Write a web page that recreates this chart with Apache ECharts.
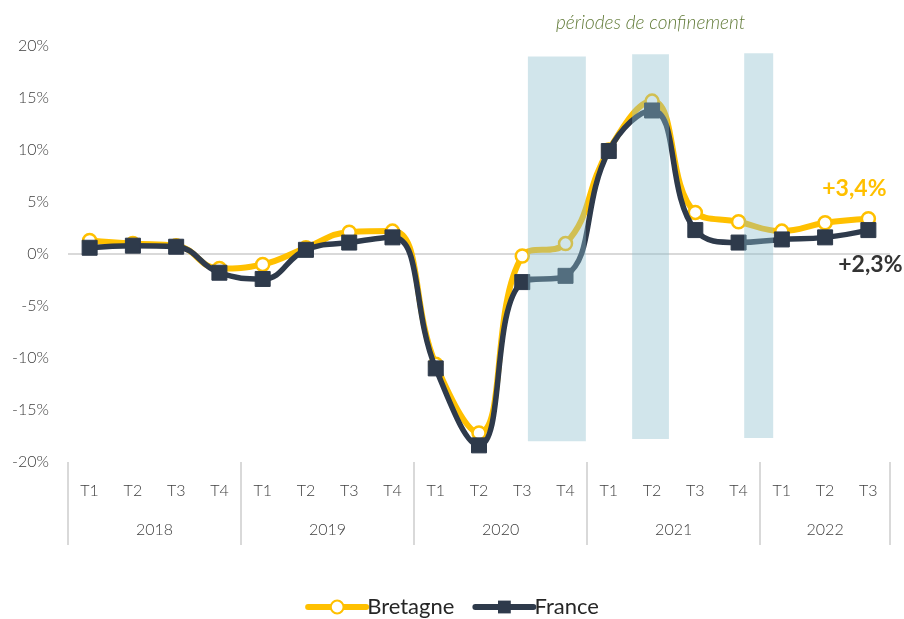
<!DOCTYPE html>
<html>
<head>
<meta charset="utf-8">
<script src="https://cdn.jsdelivr.net/npm/echarts@6/dist/echarts.min.js"></script>
<style>
  html, body { margin: 0; padding: 0; background: #fff; }
  #chart { width: 904px; height: 619px; }
</style>
</head>
<body>
<div id="chart"></div>
<script>
const quarters = ['T1', 'T2', 'T3', 'T4', 'T1', 'T2', 'T3', 'T4', 'T1', 'T2', 'T3', 'T4', 'T1', 'T2', 'T3', 'T4', 'T1', 'T2', 'T3']
const years = ['2018', '2019', '2020', '2021', '2022']
// year label centre and separator positions, in category index units
const yearCenters = [1.5, 5.5, 9.5, 13.5, 17]
const yearBounds = [-0.5, 3.5, 7.5, 11.5, 15.5, 18.5]
const bretagne = [1.3, 1.0, 0.8, -1.4, -1.0, 0.6, 2.1, 2.2, -10.6, -17.2, -0.2, 1.0, 10.0, 14.7, 4.0, 3.1, 2.2, 3.0, 3.4]
const france = [0.6, 0.8, 0.7, -1.8, -2.4, 0.4, 1.1, 1.6, -11.0, -18.4, -2.7, -2.1, 9.9, 13.8, 2.3, 1.1, 1.4, 1.6, 2.3]
// confinement periods: [from, to] in category index units, [top, bottom] in %
const confinements = [[10.13, 11.47, 19.0, -18.0], [12.54, 13.39, 19.2, -17.8], [15.13, 15.8, 19.3, -17.7]]

const YELLOW = '#FFC000'
const DARK = '#2E3A4B'
const FONT = 'Lato'

const chart = echarts.init(document.getElementById('chart'))

function withLastLabel(values, label) {
  return values.map((v, i) => i === values.length - 1 ? { value: v, label: label } : v)
}

chart.setOption({
  animation: false,
  textStyle: { fontFamily: FONT },
  grid: { left: 68, right: 14, top: 46, bottom: 157 },
  legend: {
    top: 596,
    left: 'center',
    padding: 0,
    itemWidth: 58,
    itemHeight: 16,
    itemGap: 18,
    lineStyle: { width: 6, cap: 'round' },
    textStyle: { fontSize: 22, lineHeight: 22, color: '#262626', fontFamily: FONT, padding: [0, 0, 0, -4] },
    data: ['Bretagne', 'France']
  },
  xAxis: [{
    type: 'category',
    data: quarters,
    boundaryGap: true,
    axisLine: { show: false },
    axisTick: { show: false },
    axisLabel: { color: '#404040', fontSize: 16, margin: 21, fontFamily: FONT, fontWeight: 300 }
  }, {
    type: 'value',
    position: 'bottom',
    min: -0.5,
    max: 18.5,
    axisLine: { show: false },
    splitLine: { show: false },
    axisTick: {
      show: true,
      length: 83,
      customValues: yearBounds,
      lineStyle: { color: '#d9d9d9', width: 2 }
    },
    axisLabel: {
      color: '#404040',
      fontSize: 16,
      margin: 60,
      fontFamily: FONT,
      fontWeight: 300,
      customValues: yearCenters,
      formatter: function(v) {
        const k = yearCenters.indexOf(v)
        return k >= 0 ? years[k] : ''
      }
    }
  }],
  yAxis: {
    type: 'value',
    min: -20,
    max: 20,
    interval: 5,
    axisLine: { show: false },
    axisTick: { show: false },
    splitLine: { show: false },
    axisLabel: { color: '#404040', fontSize: 16, margin: 19, fontFamily: FONT, fontWeight: 300, formatter: '{value}%' }
  },
  graphic: [{
    type: 'text',
    left: 556,
    top: 13,
    style: {
      text: 'périodes de confinement',
      fill: '#637C3A',
      font: 'italic 300 19px Lato'
    }
  }],
  series: [{
    name: 'Bretagne',
    type: 'line',
    xAxisIndex: 0,
    data: withLastLabel(bretagne, {
      show: true, position: 'top', offset: [-14, -6],
      formatter: '+3,4%', color: YELLOW, fontSize: 23, fontWeight: 'bold', fontFamily: FONT
    }),
    smooth: 0.45,
    symbol: 'circle',
    symbolSize: 13,
    z: 2,
    lineStyle: { color: YELLOW, width: 6 },
    itemStyle: { color: '#fff', borderColor: YELLOW, borderWidth: 2.5 },
    markLine: {
      silent: true,
      symbol: 'none',
      label: { show: false },
      lineStyle: { color: '#d9d9d9', width: 2, type: 'solid' },
      data: [{ yAxis: 0 }],
      z: 1
    }
  }, {
    name: 'France',
    type: 'line',
    xAxisIndex: 0,
    data: withLastLabel(france, {
      show: true, position: 'bottom', offset: [2, 10],
      formatter: '+2,3%', color: '#333333', fontSize: 23, fontWeight: 'bold', fontFamily: FONT
    }),
    smooth: 0.45,
    symbol: 'rect',
    symbolSize: 15,
    z: 3,
    lineStyle: { color: DARK, width: 5.5 },
    itemStyle: { color: DARK, borderColor: DARK }
  }, {
    name: 'confinement',
    type: 'custom',
    xAxisIndex: 1,
    silent: true,
    z: 5,
    data: confinements,
    encode: { x: [0, 1], y: [2, 3] },
    renderItem: function(params, api) {
      const p0 = api.coord([api.value(0), api.value(2)])
      const p1 = api.coord([api.value(1), api.value(3)])
      return {
        type: 'rect',
        shape: { x: p0[0], y: p0[1], width: p1[0] - p0[0], height: p1[1] - p0[1] },
        style: { fill: 'rgba(140,190,205,0.4)' }
      }
    }
  }]
})
</script>
</body>
</html>
